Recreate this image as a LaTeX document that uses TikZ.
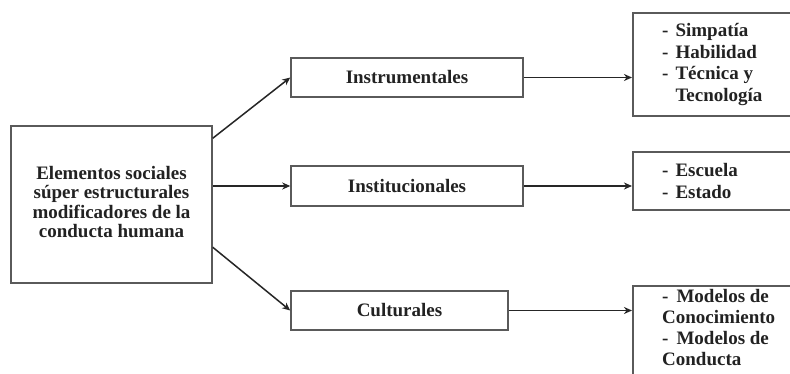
\documentclass[tikz,border=0pt]{standalone}
\usepackage{fontspec}
\setmainfont{Liberation Serif}
\usetikzlibrary{arrows.meta,calc}
\definecolor{boxline}{HTML}{5A5A5A}
\definecolor{txt}{HTML}{222222}
\tikzset{
  box/.style={draw=boxline, line width=1.5pt, fill=white, rectangle, inner sep=0pt},
  lbl/.style={font=\bfseries\fontsize{19}{19.5}\selectfont, text=txt, align=center, inner sep=0pt},
  lst/.style={font=\bfseries\fontsize{19}{21.5}\selectfont, text=txt, align=left, inner sep=0pt, anchor=north west},
  lstb/.style={lst, font=\bfseries\fontsize{19}{20.8}\selectfont},
  conn/.style={line width=1.5pt, draw=black!85, -{Stealth[length=8pt,width=7pt,inset=2.5pt]}}
}
\begin{document}
\begin{tikzpicture}[x=1pt,y=-1pt]
\fill[white] (0,0) rectangle (790,373);
\useasboundingbox (0,0) rectangle (790,373);
\clip (0,0) rectangle (790,373);
% left box
\node[box, minimum width=201pt, minimum height=157pt] (L) at (111.5,204.5) {};
\node[lbl] (Lt) at (111.5,202) {Elementos sociales\\ súper estructurales\\ modificadores de la\\ conducta humana};
% middle boxes
\node[box, minimum width=232pt, minimum height=39pt] (I) at (407,77.5) {};
\node[lbl] (It) at (I) {Instrumentales};
\node[box, minimum width=232pt, minimum height=40pt] (N) at (407,186) {};
\node[lbl] (Nt) at (N) {Institucionales};
\node[box, minimum width=217pt, minimum height=39pt] (C) at (399.5,310.5) {};
\node[lbl] (Ct) at (C) {Culturales};
% right boxes
\node[box, minimum width=180pt, minimum height=103pt, anchor=north west] (R1) at (632,12) {};
\node[box, minimum width=180pt, minimum height=58pt, anchor=north west] (R2) at (632,151) {};
\node[box, minimum width=180pt, minimum height=110pt, anchor=north west] (R3) at (632,285) {};
\node[lst] (R1t) at (662,21.5) {\begin{tabular}{@{}l@{\hspace{7pt}}l@{}}-&Simpatía\\-&Habilidad\\-&Técnica y\\&Tecnología\end{tabular}};
\node[lst] (R2t) at (662,161.5) {\begin{tabular}{@{}l@{\hspace{7pt}}l@{}}-&Escuela\\-&Estado\end{tabular}};
\node[lstb] (R3t) at (662,289.5) {-\hspace{8pt}Modelos de\\Conocimiento\\-\hspace{8pt}Modelos de\\Conducta};
% connectors
\coordinate (a1) at ($(L.north east)+(0,13)$);
\coordinate (a3) at ($(L.north east)+(0,122)$);
\draw[conn] (a1) -- (I.west);
\draw[conn] (L.east |- N.west) -- (N.west);
\draw[conn] (a3) -- (C.west);
\draw[conn] (I.east) -- (R1.west |- I.east);
\draw[conn] (N.east) -- (R2.west |- N.east);
\draw[conn] (C.east) -- (R3.west |- C.east);
\end{tikzpicture}
\end{document}
